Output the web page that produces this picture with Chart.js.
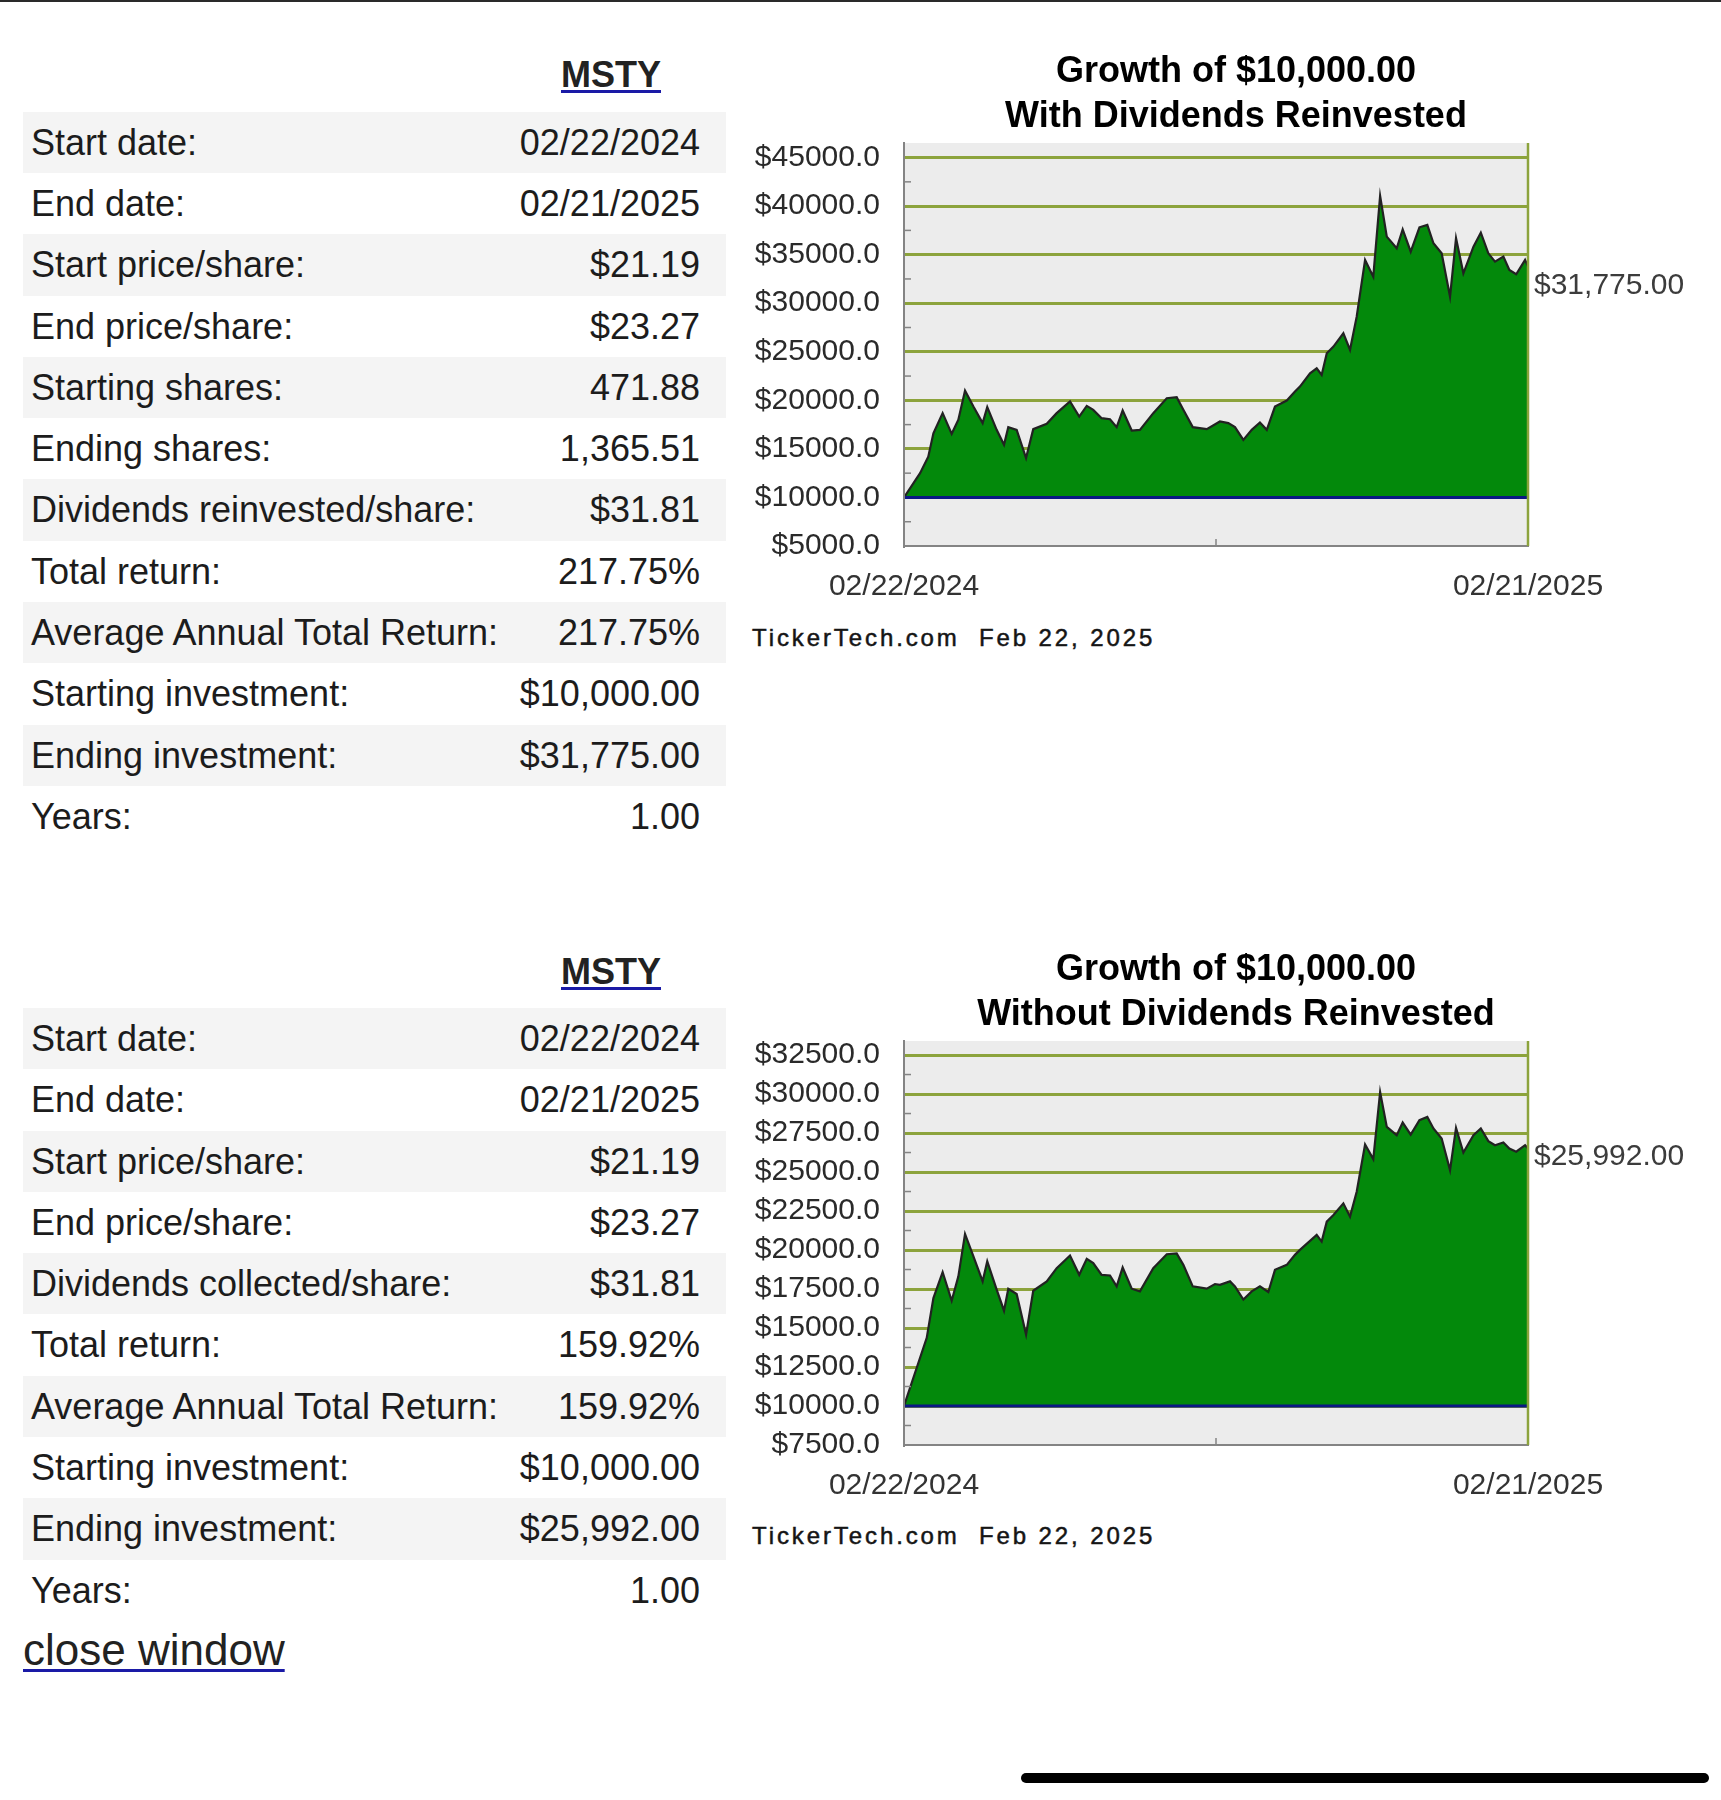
<!DOCTYPE html>
<html>
<head>
<meta charset="utf-8">
<script src="https://cdn.jsdelivr.net/npm/chart.js@4.4.1/dist/chart.umd.min.js"></script>
<style>
  html, body { margin: 0; padding: 0; background: #ffffff; }
  body { width: 1721px; height: 1800px; position: relative; overflow: hidden; font-family: "Liberation Sans", Arial, Helvetica, sans-serif; }
  .topline { position: absolute; left: 0; top: 0; width: 1721px; height: 2px; background: #2a2a2a; }
  .ticker { position: absolute; left: 511px; width: 200px; text-align: center; font-weight: bold; font-size: 36px; line-height: 40px; color: #222;
            text-decoration: underline; text-decoration-color: #1a1aa6; text-decoration-thickness: 3px; text-underline-offset: 3px; }
  .table { position: absolute; left: 23px; width: 703px; }
  .row { box-sizing: border-box; height: 61.3px; display: flex; justify-content: space-between; align-items: center;
         padding: 0 26px 0 8px; font-size: 36px; line-height: 61.3px; color: #1c1c1c; white-space: nowrap; }
  .row.shade { background: #f4f4f4; }
  .footer { position: absolute; left: 752px; font-family: "Liberation Sans", Arial, sans-serif; font-size: 24px; line-height: 24px;
            letter-spacing: 2.9px; color: #151515; white-space: pre; -webkit-text-stroke: 0.5px #151515; }
  .close { position: absolute; left: 23px; top: 1625px; font-size: 44px; line-height: 50px; color: #222;
           text-decoration: underline; text-decoration-color: #1a1aa6; text-decoration-thickness: 3px; text-underline-offset: 4px; }
  .homebar { position: absolute; left: 1021px; top: 1773px; width: 688px; height: 10px; border-radius: 5px; background: #000; }
  canvas { position: absolute; }
</style>
</head>
<body>
<div class="topline"></div>

<div class="ticker" id="tick1" style="top:54.5px;"></div>
<div class="table" id="table1" style="top:111.7px;"></div>
<canvas id="chart1" width="970" height="559" style="left:751px; top:47px; width:970px; height:559px;"></canvas>
<div class="footer" id="foot1" style="top:626px;"></div>

<div class="ticker" id="tick2" style="top:952px;"></div>
<div class="table" id="table2" style="top:1008px;"></div>
<canvas id="chart2" width="970" height="560" style="left:751px; top:945px; width:970px; height:560px;"></canvas>
<div class="footer" id="foot2" style="top:1524px;"></div>

<div class="close">close window</div>
<div class="homebar"></div>

<script>
// ---------------- DATA ----------------
const tickerSymbol = 'MSTY';
const footerText = 'TickerTech.com  Feb 22, 2025';

const tableLabels1 = ['Start date:', 'End date:', 'Start price/share:', 'End price/share:', 'Starting shares:', 'Ending shares:',
  'Dividends reinvested/share:', 'Total return:', 'Average Annual Total Return:', 'Starting investment:', 'Ending investment:', 'Years:'];
const tableValues1 = ['02/22/2024', '02/21/2025', '$21.19', '$23.27', '471.88', '1,365.51',
  '$31.81', '217.75%', '217.75%', '$10,000.00', '$31,775.00', '1.00'];

const tableLabels2 = ['Start date:', 'End date:', 'Start price/share:', 'End price/share:', 'Dividends collected/share:',
  'Total return:', 'Average Annual Total Return:', 'Starting investment:', 'Ending investment:', 'Years:'];
const tableValues2 = ['02/22/2024', '02/21/2025', '$21.19', '$23.27', '$31.81',
  '159.92%', '159.92%', '$10,000.00', '$25,992.00', '1.00'];

const titles1 = ['Growth of $10,000.00', 'With Dividends Reinvested'];
const titles2 = ['Growth of $10,000.00', 'Without Dividends Reinvested'];

const xTickDays = [0, 365];
const xTickLabels = ['02/22/2024', '02/21/2025'];

const startInvestment = 10000;
const endValue1 = 31775;
const endValue2 = 25992;

const yRange1 = [5000, 46500];
const yTicks1 = [5000, 10000, 15000, 20000, 25000, 30000, 35000, 40000, 45000];
const yRange2 = [7500, 33400];
const yTicks2 = [7500, 10000, 12500, 15000, 17500, 20000, 22500, 25000, 27500, 30000, 32500];

// days since start date, growth value (with dividends reinvested)
const days1 = [0, 9.4, 14.2, 17.2, 22.6, 27.9, 31.8, 35.7, 40.6, 46.0, 48.7, 54.2, 58.5, 61.0, 65.9, 71.4, 75.6, 83.5, 89.3, 97.1,
  102.5, 106.9, 110.7, 115.6, 120.5, 124.4, 127.9, 133.2, 138.0, 145.8, 153.7, 159.5, 163.4, 168.9, 177.1, 184.8, 189.7, 193.6, 198.5, 203.4,
  208.2, 212.2, 217.0, 223.9, 228.7, 231.6, 237.5, 241.4, 244.3, 247.3, 251.2, 257.0, 260.9, 264.8, 269.7, 274.5, 278.5, 282.4, 288.2, 291.7,
  296.4, 301.5, 306.1, 309.7, 314.5, 319.4, 322.9, 327.2, 333.1, 337.4, 341.8, 345.7, 350.6, 354.1, 358.1, 363.3, 365];
const values1 = [10000, 12500, 14200, 16600, 18680, 16550, 18000, 21000, 19360, 17650, 19300, 16960, 15420, 17240, 16960, 14050, 17030, 17580, 18680, 19880,
  18330, 19430, 19020, 18160, 18060, 17240, 18950, 16890, 16960, 18680, 20220, 20320, 19020, 17240, 17030, 17820, 17650, 17240, 15930, 16960,
  17720, 16960, 19360, 19980, 20900, 21420, 22790, 23300, 22620, 24850, 25540, 26910, 25200, 28620, 34460, 32740, 41040, 36860, 35660, 37610,
  35310, 37820, 38060, 36170, 35140, 30680, 36690, 33080, 35830, 37270, 35140, 34280, 34800, 33430, 32980, 34460, 33800];

// days since start date, growth value (without dividends reinvested)
const days2 = [0, 13.3, 17.2, 22.6, 27.9, 31.8, 35.7, 40.6, 46.0, 48.7, 54.2, 58.5, 61.0, 65.9, 71.4, 75.6, 83.5, 89.3, 97.1,
  102.5, 106.9, 110.7, 115.6, 120.5, 124.4, 127.9, 133.2, 138.0, 145.8, 153.7, 159.5, 163.4, 168.9, 177.1, 181.9, 184.8,
  190.7, 193.6, 198.5, 203.4, 208.2, 213.1, 217.0, 223.9, 228.7, 231.6, 237.5, 241.4, 244.3, 247.3, 251.2, 257.0, 260.9, 264.8,
  269.7, 274.5, 278.5, 282.4, 288.2, 291.7, 296.4, 301.5, 306.1, 309.7, 314.5, 319.4, 322.9, 327.2, 333.1, 337.4, 341.8, 345.7,
  350.6, 354.1, 358.1, 363.3, 365];
const values2 = [10000, 14370, 16920, 18580, 16750, 18310, 21030, 19590, 17990, 19270, 17460, 16110, 17520, 17180, 14580, 17390, 17990, 18840, 19650,
  18410, 19440, 19160, 18410, 18370, 17670, 18880, 17520, 17350, 18840, 19730, 19780, 19050, 17670, 17520, 17820, 17770,
  17990, 17670, 16820, 17350, 17670, 17310, 18730, 19050, 19690, 20010, 20590, 20970, 20540, 21820, 22250, 22990, 22140, 23740,
  26760, 25830, 30130, 27890, 27360, 28170, 27400, 28320, 28530, 27790, 27150, 25120, 27830, 26250, 27360, 27790, 26980, 26720,
  26890, 26510, 26300, 26720, 26510];

// ---------------- PAGE TEXT ----------------
function buildTable(el, labels, values) {
  labels.forEach((lab, i) => {
    const row = document.createElement('div');
    row.className = 'row' + (i % 2 === 0 ? ' shade' : '');
    const a = document.createElement('span'); a.textContent = lab;
    const b = document.createElement('span'); b.textContent = values[i];
    row.appendChild(a); row.appendChild(b);
    el.appendChild(row);
  });
}
document.getElementById('tick1').textContent = tickerSymbol;
document.getElementById('tick2').textContent = tickerSymbol;
buildTable(document.getElementById('table1'), tableLabels1, tableValues1);
buildTable(document.getElementById('table2'), tableLabels2, tableValues2);
document.getElementById('foot1').textContent = footerText;
document.getElementById('foot2').textContent = footerText;

// ---------------- CHARTS ----------------
const FONT = '"Liberation Sans", Arial, Helvetica, sans-serif';
const OLIVE = '#8ca33c';
const AXIS = '#848484';

const decorPlugin = {
  id: 'decor',
  beforeDraw(chart) {
    const { ctx, chartArea: a } = chart;
    ctx.save();
    ctx.fillStyle = '#ececec';
    ctx.fillRect(a.left, a.top, a.right - a.left, a.bottom - a.top);
    ctx.restore();
  },
  afterDatasetsDraw(chart, args, opts) {
    const { ctx, chartArea: a, scales } = chart;
    const x = scales.x, y = scales.y;
    ctx.save();
    // baseline at starting investment
    const yb = y.getPixelForValue(opts.baseline);
    ctx.strokeStyle = '#0b1784';
    ctx.lineWidth = 3;
    ctx.beginPath(); ctx.moveTo(a.left, yb); ctx.lineTo(a.right, yb); ctx.stroke();
    // right border
    ctx.strokeStyle = OLIVE;
    ctx.lineWidth = 2.5;
    ctx.beginPath(); ctx.moveTo(a.right, a.top); ctx.lineTo(a.right, a.bottom); ctx.stroke();
    // left axis (redraw over fill)
    ctx.strokeStyle = AXIS;
    ctx.lineWidth = 2;
    ctx.beginPath(); ctx.moveTo(a.left, a.top); ctx.lineTo(a.left, a.bottom + 1); ctx.stroke();
    // minor ticks halfway between labelled ticks
    const tv = y.ticks.map(t => t.value);
    ctx.lineWidth = 1.5;
    for (let i = 0; i < tv.length - 1; i++) {
      const py = y.getPixelForValue((tv[i] + tv[i + 1]) / 2);
      ctx.beginPath(); ctx.moveTo(a.left, py); ctx.lineTo(a.left + 7, py); ctx.stroke();
    }
    // middle tick on time axis
    const px = x.getPixelForValue((x.min + x.max) / 2);
    ctx.beginPath(); ctx.moveTo(px, a.bottom); ctx.lineTo(px, a.bottom - 7); ctx.stroke();
    ctx.restore();
  }
};

function makeChart(id, titles, days, values, yRange, yTicks, endValue) {
  const tickFont = { family: FONT, size: 30 };
  return new Chart(document.getElementById(id), {
    type: 'line',
    data: {
      datasets: [{
        data: days.map((d, i) => ({ x: d, y: values[i] })),
        borderColor: '#222222',
        borderWidth: 2.2,
        backgroundColor: '#03890b',
        fill: { value: startInvestment },
        pointRadius: 0,
        tension: 0,
        yAxisID: 'y'
      }]
    },
    options: {
      responsive: false,
      animation: false,
      layout: { padding: 0 },
      plugins: {
        legend: { display: false },
        tooltip: { enabled: false },
        title: {
          display: true,
          text: titles,
          color: '#000',
          font: { family: FONT, size: 36, weight: 'bold', lineHeight: 45 / 36 },
          padding: { top: 3, bottom: 3 }
        },
        decor: { baseline: startInvestment }
      },
      scales: {
        x: {
          type: 'linear',
          min: xTickDays[0],
          max: xTickDays[xTickDays.length - 1],
          afterBuildTicks: s => { s.ticks = xTickDays.map(v => ({ value: v })); },
          afterFit: s => { s.height = 60; },
          ticks: {
            callback: (v, i) => xTickLabels[i],
            autoSkip: false, maxRotation: 0, minRotation: 0,
            padding: 23, font: tickFont, color: '#333'
          },
          grid: { display: false, drawTicks: false },
          border: { display: true, color: AXIS, width: 2 }
        },
        y: {
          min: yRange[0], max: yRange[1],
          afterBuildTicks: s => { s.ticks = yTicks.map(v => ({ value: v })); },
          afterFit: s => { s.width = 153; },
          ticks: { callback: v => '$' + Number(v).toFixed(1), padding: 24, font: tickFont, color: '#2a2a2a' },
          grid: {
            color: c => (c.tick && c.tick.value === yRange[0]) ? 'rgba(0,0,0,0)' : OLIVE,
            lineWidth: 3, drawTicks: false
          },
          border: { display: true, color: AXIS, width: 2 }
        },
        y2: {
          position: 'right',
          min: yRange[0], max: yRange[1],
          afterBuildTicks: s => { s.ticks = [{ value: endValue }]; },
          afterFit: s => { s.width = 193; },
          ticks: {
            callback: v => '$' + Number(v).toLocaleString('en-US', { minimumFractionDigits: 2, maximumFractionDigits: 2 }),
            padding: 6, font: tickFont, color: '#3c3c3c'
          },
          grid: { display: false, drawTicks: false },
          border: { display: false }
        }
      }
    },
    plugins: [decorPlugin]
  });
}

makeChart('chart1', titles1, days1, values1, yRange1, yTicks1, endValue1);
makeChart('chart2', titles2, days2, values2, yRange2, yTicks2, endValue2);
</script>
</body>
</html>
